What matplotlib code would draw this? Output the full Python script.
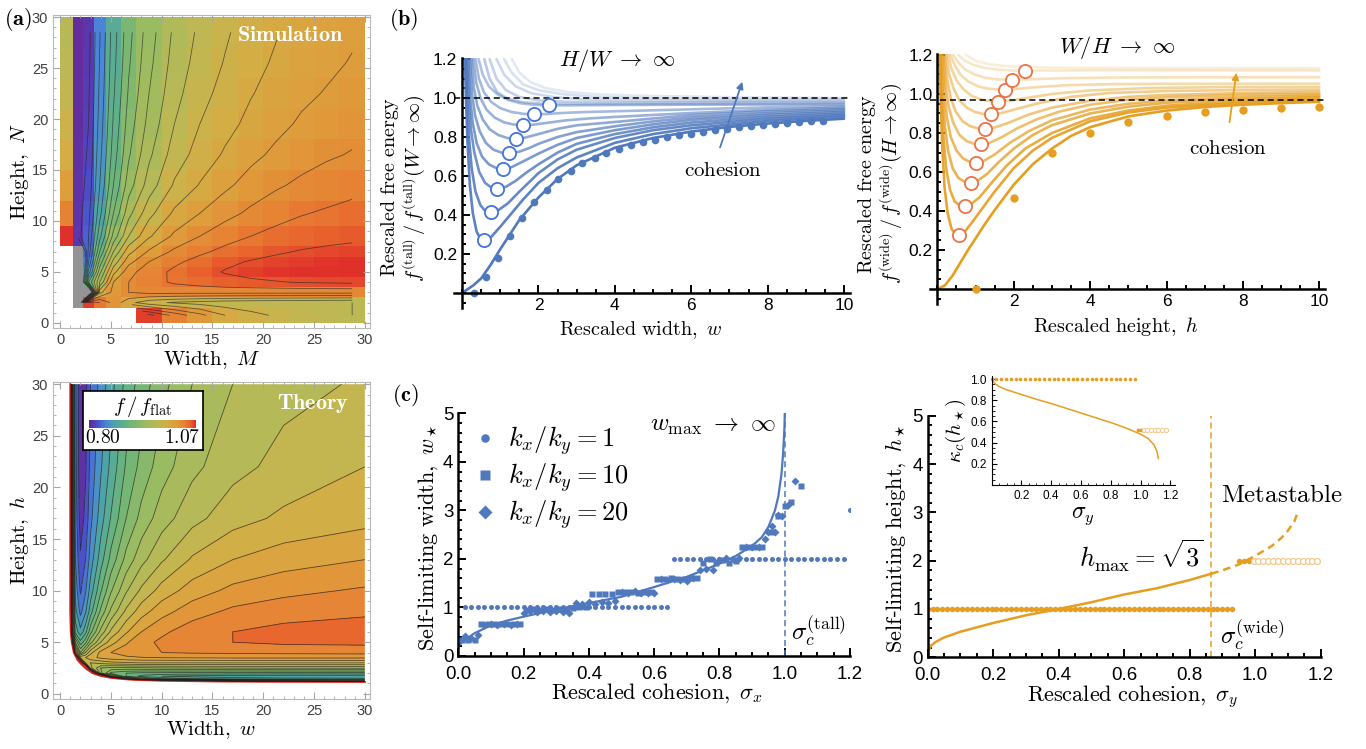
import numpy as np
import matplotlib
matplotlib.use("Agg")
import matplotlib.pyplot as plt
from matplotlib.colors import LinearSegmentedColormap, Normalize
from matplotlib.patches import Polygon
from matplotlib.ticker import MultipleLocator, FixedLocator

plt.rcParams['mathtext.fontset'] = 'cm'
plt.rcParams['font.family'] = ['Liberation Sans', 'DejaVu Sans']

BLUE = (0.31, 0.47, 0.74)
ORANGE = (0.90, 0.62, 0.13)
RING = (0.93, 0.45, 0.27)

# ---------------- colour scale f / f_flat ----------------
VMIN, VMAX = 0.795, 1.075
CMAP_VALS = [0.795, 0.815, 0.84, 0.865, 0.90, 0.94, 0.975, 1.0, 1.025, 1.045, 1.06, 1.075]
CMAP_COLS = ['#6b2390', '#4b4cc7', '#4a86d8', '#4fa6a3', '#6db57a', '#9cbb60',
             '#bcb955', '#d4ad45', '#e09a3a', '#e68334', '#e8642d', '#e0302a']
LEVELS = 0.795 + 0.015 * np.arange(19)

# ---------------- (a) simulation table ----------------
SIM_M_EDGES = [0, 1.3, 2.3, 3.3, 4.5, 6, 7.5, 10, 12.5, 15, 17.5, 20, 22.5, 25, 27.5, 30]
SIM_N_EDGES = [0, 1.5, 2.5, 3.5, 4.5, 5.5, 6.5, 7.5, 9.5, 12, 15, 18, 21, 24, 27, 30]
nan = np.nan
SIM_F = [
    [nan, nan, nan, nan, nan, nan, 1.07, 1.045, 1.025, 1.005, 0.995, 0.988, 0.982, 0.978, 0.975],
    [nan, 0.7, 1.07, 1.05, 1.03, 1.01, 0.995, 0.988, 0.984, 0.981, 0.979, 0.978, 0.977, 0.976, 0.975],
    [nan, 0.7, 0.7, 1.0, 1.025, 1.035, 1.04, 1.04, 1.04, 1.04, 1.04, 1.04, 1.04, 1.04, 1.04],
    [nan, 0.7, 0.9, 0.96, 1.02, 1.035, 1.045, 1.052, 1.056, 1.06, 1.062, 1.064, 1.066, 1.067, 1.068],
    [nan, 0.7, 0.86, 0.94, 1.0, 1.03, 1.043, 1.053, 1.06, 1.066, 1.07, 1.073, 1.075, 1.077, 1.078],
    [nan, 0.7, 0.84, 0.92, 0.98, 1.015, 1.035, 1.047, 1.055, 1.062, 1.066, 1.069, 1.071, 1.073, 1.074],
    [nan, 0.72, 0.83, 0.9, 0.96, 1.0, 1.022, 1.038, 1.047, 1.054, 1.059, 1.063, 1.066, 1.068, 1.069],
    [1.075, 0.805, 0.825, 0.88, 0.935, 0.975, 1.003, 1.023, 1.035, 1.044, 1.05, 1.055, 1.058, 1.06, 1.062],
    [1.045, 0.804, 0.82, 0.865, 0.915, 0.955, 0.985, 1.008, 1.02, 1.03, 1.038, 1.044, 1.049, 1.052, 1.055],
    [1.02, 0.803, 0.815, 0.855, 0.9, 0.938, 0.967, 0.992, 1.006, 1.017, 1.026, 1.033, 1.038, 1.042, 1.045],
    [1.0, 0.802, 0.812, 0.85, 0.892, 0.928, 0.957, 0.982, 0.996, 1.007, 1.016, 1.023, 1.029, 1.033, 1.036],
    [0.99, 0.801, 0.81, 0.846, 0.887, 0.922, 0.95, 0.975, 0.99, 1.0, 1.009, 1.016, 1.022, 1.026, 1.03],
    [0.98, 0.801, 0.808, 0.843, 0.883, 0.917, 0.945, 0.97, 0.985, 0.995, 1.004, 1.011, 1.017, 1.021, 1.025],
    [0.975, 0.80, 0.806, 0.841, 0.88, 0.913, 0.941, 0.966, 0.981, 0.991, 1.0, 1.007, 1.013, 1.017, 1.021],
    [0.97, 0.80, 0.805, 0.839, 0.878, 0.91, 0.938, 0.963, 0.978, 0.988, 0.997, 1.004, 1.01, 1.014, 1.018],
]

# ---------------- (a) theory table ----------------
TH_W = [1.0, 1.2, 1.5, 2, 2.5, 3, 4, 5, 6.5, 8, 10, 13, 17, 22, 30]
TH_H = [1.0, 1.2, 1.45, 1.7, 2.0, 2.5, 3.0, 3.5, 4, 5, 6, 8, 10, 13, 17, 22, 30]
TH_F = [
    [1.15] * 15,
    [1.15] * 12 + [1.03, 0.99, 0.96],
    [1.15] * 8 + [1.0, 0.93, 0.9, 0.885, 0.878, 0.875, 0.873],
    [1.15] * 7 + [0.98, 0.9, 0.88, 0.87, 0.865, 0.862, 0.86, 0.86],
    [1.15] * 6 + [0.95, 0.91, 0.9, 0.896, 0.895, 0.894, 0.893, 0.893, 0.893],
    [1.15] * 5 + [0.98, 0.945, 0.94, 0.94, 0.942, 0.944, 0.945, 0.946, 0.947, 0.948],
    [1.15, 1.15, 1.15, 1.1, 0.99, 0.975, 0.98, 0.985, 0.988, 0.99, 0.99, 0.99, 0.99, 0.99, 0.99],
    [1.15, 1.15, 1.12, 0.99, 0.99, 1.0, 1.008, 1.013, 1.017, 1.019, 1.02, 1.021, 1.022, 1.022, 1.022],
    [1.15, 1.15, 1.0, 0.93, 0.96, 0.985, 1.01, 1.02, 1.027, 1.032, 1.035, 1.037, 1.038, 1.039, 1.04],
    [1.15, 1.05, 0.93, 0.89, 0.91, 0.94, 0.975, 0.998, 1.018, 1.03, 1.038, 1.045, 1.05, 1.053, 1.054],
    [1.15, 0.97, 0.88, 0.86, 0.88, 0.91, 0.95, 0.978, 1.003, 1.02, 1.032, 1.043, 1.05, 1.055, 1.058],
    [1.15, 0.955, 0.86, 0.835, 0.852, 0.878, 0.918, 0.948, 0.978, 0.998, 1.014, 1.028, 1.038, 1.043, 1.047],
    [1.15, 0.95, 0.85, 0.823, 0.838, 0.862, 0.898, 0.928, 0.958, 0.978, 0.996, 1.012, 1.024, 1.031, 1.037],
    [1.15, 0.945, 0.84, 0.812, 0.825, 0.847, 0.878, 0.905, 0.935, 0.955, 0.973, 0.992, 1.005, 1.013, 1.02],
    [1.15, 0.94, 0.835, 0.803, 0.814, 0.836, 0.863, 0.886, 0.915, 0.935, 0.953, 0.97, 0.984, 0.993, 1.0],
    [1.15, 0.935, 0.832, 0.797, 0.808, 0.83, 0.853, 0.874, 0.902, 0.92, 0.938, 0.956, 0.97, 0.98, 0.99],
    [1.15, 0.93, 0.83, 0.796, 0.805, 0.825, 0.846, 0.864, 0.89, 0.907, 0.925, 0.945, 0.96, 0.97, 0.977],
]
TH_EDGE_W = [1.0, 1.0, 1.05, 1.15, 1.35, 1.7, 2.06, 2.6, 3.2, 3.9, 5, 6, 7.3, 10, 15, 20, 30]
TH_EDGE_H = [30, 8, 6, 5, 4, 3.3, 2.9, 2.4, 2.0, 1.76, 1.55, 1.45, 1.35, 1.27, 1.2, 1.17, 1.15]

# ---------------- (b) tall: free energy vs width ----------------
TALL_W = [
    [0.0, 0.3, 0.5, 0.75, 1.0, 1.25, 1.5, 2.0, 2.5, 3.0, 4.0, 5.0, 6.0, 7.0, 8.0, 9.0, 10.0],
    [0.075, 0.1, 0.14, 0.2, 0.28, 0.38, 0.48, 0.585, 0.75, 1.0, 1.3, 1.6, 2.0, 2.5, 3.0, 4.0, 5.0, 6.0, 8.0, 10.0],
    [0.1, 0.13, 0.18, 0.25, 0.35, 0.48, 0.6, 0.76, 0.95, 1.2, 1.5, 2.0, 2.5, 3.0, 4.0, 5.0, 6.0, 8.0, 10.0],
    [0.13, 0.17, 0.23, 0.32, 0.45, 0.6, 0.75, 0.925, 1.15, 1.4, 1.7, 2.0, 2.5, 3.0, 4.0, 5.0, 6.0, 8.0, 10.0],
    [0.16, 0.21, 0.28, 0.38, 0.52, 0.7, 0.88, 1.08, 1.3, 1.6, 2.0, 2.5, 3.0, 4.0, 5.0, 6.0, 8.0, 10.0],
    [0.2, 0.26, 0.34, 0.46, 0.62, 0.82, 1.03, 1.24, 1.5, 1.75, 2.0, 2.5, 3.0, 4.0, 5.0, 6.0, 8.0, 10.0],
    [0.24, 0.31, 0.4, 0.54, 0.72, 0.95, 1.18, 1.4, 1.65, 2.0, 2.5, 3.0, 4.0, 5.0, 6.0, 8.0, 10.0],
    [0.29, 0.37, 0.48, 0.64, 0.85, 1.1, 1.35, 1.59, 1.85, 2.2, 2.7, 3.3, 4.0, 5.0, 6.0, 8.0, 10.0],
    [0.35, 0.44, 0.57, 0.76, 1.0, 1.3, 1.6, 1.87, 2.2, 2.6, 3.2, 4.0, 5.0, 6.0, 8.0, 10.0],
    [0.43, 0.54, 0.7, 0.92, 1.2, 1.55, 1.9, 2.28, 2.7, 3.3, 4.0, 5.0, 6.0, 8.0, 10.0],
    [0.58, 0.72, 0.92, 1.2, 1.6, 2.1, 2.8, 4.0, 6.0, 10.0],
    [0.72, 0.9, 1.15, 1.5, 2.0, 2.7, 3.6, 5.0, 7.0, 10.0],
    [0.9, 1.1, 1.4, 1.8, 2.4, 3.2, 4.5, 7.0, 10.0],
    [1.1, 1.3, 1.6, 2.0, 2.6, 3.5, 5.0, 7.0, 10.0],
    [1.3, 1.5, 1.8, 2.2, 2.8, 3.6, 5.0, 7.0, 10.0],
]
TALL_F = [
    [0.0, 0.04, 0.075, 0.145, 0.225, 0.30, 0.375, 0.49, 0.585, 0.655, 0.745, 0.795, 0.828, 0.852, 0.869, 0.883, 0.894],
    [1.2, 1.0, 0.78, 0.56, 0.41, 0.315, 0.278, 0.27, 0.285, 0.34, 0.41, 0.48, 0.565, 0.64, 0.695, 0.77, 0.815, 0.845, 0.882, 0.905],
    [1.2, 1.0, 0.8, 0.64, 0.52, 0.45, 0.422, 0.414, 0.425, 0.46, 0.52, 0.615, 0.685, 0.735, 0.795, 0.835, 0.86, 0.893, 0.913],
    [1.2, 1.0, 0.84, 0.72, 0.62, 0.565, 0.543, 0.535, 0.545, 0.575, 0.62, 0.66, 0.72, 0.765, 0.815, 0.85, 0.874, 0.903, 0.921],
    [1.2, 1.0, 0.87, 0.77, 0.7, 0.66, 0.642, 0.636, 0.646, 0.675, 0.715, 0.76, 0.795, 0.835, 0.865, 0.888, 0.913, 0.929],
    [1.2, 1.02, 0.91, 0.83, 0.77, 0.735, 0.72, 0.716, 0.725, 0.743, 0.765, 0.8, 0.825, 0.855, 0.88, 0.9, 0.922, 0.937],
    [1.2, 1.05, 0.96, 0.89, 0.84, 0.81, 0.795, 0.79, 0.797, 0.815, 0.842, 0.86, 0.877, 0.895, 0.912, 0.932, 0.944],
    [1.2, 1.08, 1.0, 0.94, 0.9, 0.875, 0.864, 0.86, 0.863, 0.872, 0.885, 0.895, 0.903, 0.913, 0.923, 0.94, 0.951],
    [1.2, 1.1, 1.03, 0.98, 0.948, 0.928, 0.919, 0.916, 0.918, 0.923, 0.928, 0.932, 0.937, 0.942, 0.952, 0.958],
    [1.2, 1.12, 1.06, 1.02, 0.99, 0.972, 0.965, 0.962, 0.962, 0.963, 0.964, 0.965, 0.966, 0.966, 0.967],
    [1.2, 1.1, 1.03, 0.995, 0.978, 0.971, 0.969, 0.969, 0.97, 0.972],
    [1.2, 1.1, 1.04, 1.005, 0.988, 0.981, 0.979, 0.978, 0.979, 0.979],
    [1.2, 1.12, 1.06, 1.025, 1.005, 0.993, 0.988, 0.986, 0.986],
    [1.2, 1.13, 1.07, 1.04, 1.02, 1.005, 0.998, 0.994, 0.993],
    [1.2, 1.13, 1.08, 1.05, 1.03, 1.018, 1.01, 1.004, 1.0],
]
TALL_MIN_W = [0.585, 0.76, 0.925, 1.08, 1.24, 1.40, 1.59, 1.87, 2.28]
TALL_MIN_F = [0.27, 0.414, 0.535, 0.636, 0.716, 0.79, 0.86, 0.916, 0.962]
TALL_SIM_W = [0.32, 0.63, 0.95, 1.26, 1.58, 1.89, 2.21, 2.52, 2.84, 3.15, 3.47, 3.78, 4.10, 4.41, 4.73,
              5.04, 5.36, 5.67, 5.99, 6.30, 6.62, 6.93, 7.25, 7.56, 7.88, 8.19, 8.51, 8.82, 9.14, 9.45]
TALL_SIM_F = [0.0, 0.08, 0.18, 0.29, 0.385, 0.465, 0.53, 0.585, 0.627, 0.665, 0.694, 0.72, 0.74, 0.759, 0.773,
              0.787, 0.798, 0.808, 0.818, 0.827, 0.835, 0.842, 0.849, 0.855, 0.861, 0.866, 0.871, 0.876, 0.880, 0.884]

# ---------------- (b) wide: free energy vs height ----------------
WIDE_H = [
    [0.0, 0.2, 0.4, 0.6, 0.8, 1.0, 1.25, 1.5, 2.0, 2.5, 3.0, 3.5, 4.0, 5.0, 6.0, 7.0, 8.0, 9.0, 10.0],
    [0.06, 0.09, 0.13, 0.19, 0.27, 0.37, 0.47, 0.568, 0.7, 0.9, 1.2, 1.5, 2.0, 2.5, 3.0, 4.0, 5.0, 6.0, 8.0, 10.0],
    [0.08, 0.11, 0.16, 0.23, 0.33, 0.45, 0.58, 0.717, 0.88, 1.1, 1.4, 1.8, 2.3, 3.0, 4.0, 5.0, 6.0, 8.0, 10.0],
    [0.1, 0.14, 0.2, 0.28, 0.4, 0.55, 0.7, 0.874, 1.05, 1.3, 1.6, 2.0, 2.5, 3.0, 4.0, 5.0, 6.0, 8.0, 10.0],
    [0.13, 0.18, 0.25, 0.35, 0.5, 0.67, 0.84, 1.013, 1.2, 1.5, 1.9, 2.4, 3.0, 4.0, 5.0, 6.0, 8.0, 10.0],
    [0.16, 0.22, 0.3, 0.42, 0.58, 0.77, 0.96, 1.144, 1.35, 1.7, 2.1, 2.6, 3.2, 4.0, 5.0, 6.0, 8.0, 10.0],
    [0.19, 0.26, 0.35, 0.48, 0.66, 0.86, 1.06, 1.257, 1.5, 1.9, 2.4, 3.0, 4.0, 5.0, 6.0, 8.0, 10.0],
    [0.23, 0.31, 0.42, 0.57, 0.77, 0.98, 1.2, 1.406, 1.7, 2.1, 2.7, 3.5, 4.5, 6.0, 8.0, 10.0],
    [0.28, 0.37, 0.5, 0.68, 0.9, 1.14, 1.38, 1.6, 1.9, 2.3, 3.0, 4.0, 5.5, 7.5, 10.0],
    [0.34, 0.45, 0.6, 0.8, 1.05, 1.3, 1.55, 1.772, 2.1, 2.6, 3.4, 4.5, 6.0, 10.0],
    [0.42, 0.55, 0.73, 0.97, 1.25, 1.55, 1.955, 2.4, 3.2, 4.5, 6.0, 10.0],
    [0.55, 0.72, 0.95, 1.25, 1.6, 1.95, 2.29, 2.8, 4.0, 6.0, 10.0],
    [0.75, 1.0, 1.4, 2.0, 3.0, 5.0, 10.0],
]
WIDE_F = [
    [0.0, 0.02, 0.07, 0.135, 0.2, 0.26, 0.335, 0.405, 0.535, 0.64, 0.72, 0.785, 0.83, 0.885, 0.915, 0.933, 0.945, 0.953, 0.96],
    [1.2, 0.95, 0.72, 0.52, 0.39, 0.31, 0.282, 0.278, 0.29, 0.34, 0.42, 0.5, 0.62, 0.71, 0.775, 0.86, 0.905, 0.93, 0.955, 0.968],
    [1.2, 1.0, 0.78, 0.62, 0.51, 0.45, 0.43, 0.425, 0.435, 0.47, 0.54, 0.63, 0.72, 0.8, 0.875, 0.915, 0.94, 0.963, 0.976],
    [1.2, 1.0, 0.83, 0.71, 0.62, 0.57, 0.552, 0.546, 0.555, 0.59, 0.65, 0.72, 0.79, 0.84, 0.9, 0.935, 0.955, 0.973, 0.984],
    [1.2, 1.02, 0.88, 0.78, 0.71, 0.67, 0.653, 0.648, 0.655, 0.69, 0.75, 0.81, 0.865, 0.92, 0.95, 0.967, 0.983, 0.992],
    [1.2, 1.04, 0.93, 0.85, 0.79, 0.758, 0.745, 0.742, 0.748, 0.78, 0.825, 0.87, 0.91, 0.945, 0.97, 0.983, 0.995, 1.0],
    [1.2, 1.07, 0.98, 0.91, 0.86, 0.835, 0.824, 0.821, 0.828, 0.855, 0.895, 0.93, 0.965, 0.985, 0.995, 1.005, 1.01],
    [1.2, 1.1, 1.03, 0.97, 0.93, 0.908, 0.898, 0.896, 0.903, 0.925, 0.955, 0.985, 1.005, 1.015, 1.02, 1.022],
    [1.2, 1.13, 1.07, 1.025, 0.99, 0.972, 0.963, 0.961, 0.965, 0.978, 1.0, 1.018, 1.03, 1.035, 1.036],
    [1.2, 1.15, 1.1, 1.065, 1.04, 1.028, 1.023, 1.022, 1.026, 1.035, 1.045, 1.05, 1.052, 1.053],
    [1.2, 1.16, 1.125, 1.1, 1.083, 1.075, 1.072, 1.075, 1.08, 1.084, 1.085, 1.086],
    [1.2, 1.17, 1.148, 1.133, 1.124, 1.12, 1.119, 1.12, 1.121, 1.121, 1.12],
    [1.2, 1.17, 1.15, 1.14, 1.135, 1.133, 1.132],
]
WIDE_MIN_H = [0.568, 0.717, 0.874, 1.013, 1.144, 1.257, 1.406, 1.60, 1.772, 1.955, 2.29]
WIDE_MIN_F = [0.278, 0.425, 0.546, 0.648, 0.742, 0.821, 0.896, 0.961, 1.022, 1.072, 1.119]
WIDE_SIM_H = [1, 2, 3, 4, 5, 6, 7, 8, 9, 10]
WIDE_SIM_F = [0.0, 0.469, 0.696, 0.80, 0.857, 0.886, 0.908, 0.92, 0.928, 0.933]

# ---------------- (c) self-limiting width ----------------
# k=1 runs: (first sigma, last sigma, w), sampled every 0.02
K1_START = [0.02, 0.66, 1.20]
K1_END = [0.64, 1.18, 1.20]
K1_W = [1, 2, 3]
K10_S = [0.01, 0.03, 0.05, 0.07, 0.09, 0.11, 0.13, 0.15, 0.17, 0.19, 0.21, 0.23, 0.25, 0.27, 0.29, 0.31,
         0.33, 0.35, 0.37, 0.39, 0.41, 0.43, 0.45, 0.47, 0.49, 0.51, 0.53, 0.55, 0.57, 0.59, 0.61, 0.63,
         0.65, 0.67, 0.69, 0.71, 0.73, 0.75, 0.77, 0.79, 0.81, 0.83, 0.85, 0.87, 0.89, 0.91, 0.93, 0.96,
         0.98, 1.0, 1.02, 1.05]
K10_W = [0.33, 0.33, 0.33, 0.65, 0.65, 0.65, 0.65, 0.65, 0.65, 0.65, 0.95, 0.97, 0.95, 0.97, 0.95, 0.97,
         0.95, 0.98, 1.0, 1.0, 1.27, 1.27, 1.27, 1.27, 1.32, 1.32, 1.32, 1.3, 1.32, 1.32, 1.58, 1.58,
         1.6, 1.58, 1.58, 1.6, 1.6, 1.92, 2.0, 1.92, 1.98, 1.92, 1.95, 2.25, 2.25, 2.25, 2.25, 2.55,
         2.88, 3.1, 3.18, 3.5]
K20_S = [0.02, 0.04, 0.06, 0.08, 0.10, 0.12, 0.14, 0.16, 0.18, 0.20, 0.22, 0.24, 0.26, 0.28, 0.30, 0.32,
         0.34, 0.36, 0.38, 0.40, 0.42, 0.44, 0.46, 0.48, 0.50, 0.52, 0.54, 0.56, 0.58, 0.60, 0.62, 0.64,
         0.66, 0.68, 0.70, 0.72, 0.74, 0.76, 0.78, 0.80, 0.82, 0.84, 0.86, 0.88, 0.90, 0.92, 0.94, 0.95,
         0.96, 0.97, 0.98, 0.99, 1.01, 1.03]
K20_W = [0.42, 0.38, 0.44, 0.64, 0.66, 0.64, 0.65, 0.64, 0.66, 0.88, 0.92, 0.9, 0.93, 0.9, 0.92, 0.9,
         0.88, 1.1, 1.08, 1.12, 1.08, 1.12, 1.1, 1.14, 1.32, 1.3, 1.33, 1.3, 1.3, 1.3, 1.58, 1.56,
         1.58, 1.56, 1.55, 1.6, 1.78, 1.8, 1.78, 1.98, 2.02, 2.0, 2.02, 2.25, 2.25, 2.24, 2.42, 2.55,
         2.68, 2.55, 2.9, 2.88, 3.12, 3.6]
TALL_TH_S = [0.0, 0.005, 0.02, 0.05, 0.1, 0.15, 0.2, 0.3, 0.4, 0.5, 0.6, 0.7, 0.8, 0.85, 0.9, 0.93,
             0.95, 0.97, 0.98, 0.99, 0.995, 0.999, 1.0]
TALL_TH_W = [0.19, 0.24, 0.33, 0.47, 0.63, 0.73, 0.81, 0.96, 1.09, 1.22, 1.42, 1.63, 1.9, 2.06, 2.27, 2.45,
             2.66, 3.0, 3.28, 3.75, 4.18, 4.7, 5.0]

# ---------------- (c) self-limiting height ----------------
H1_START = [0.0, 0.95]
H1_END = [0.935, 0.98]
H1_H = [1, 2]
H_OPEN_START, H_OPEN_END, H_OPEN_H = 0.995, 1.2, 2
WIDE_TH_S = [0.0, 0.003, 0.01, 0.025, 0.05, 0.1, 0.2, 0.3, 0.4, 0.5, 0.6, 0.7, 0.8, 0.866]
WIDE_TH_H = [0.0, 0.15, 0.24, 0.32, 0.41, 0.53, 0.71, 0.87, 1.0, 1.14, 1.3, 1.43, 1.6, 1.73]
META_S = [0.866, 0.9, 0.95, 1.0, 1.05, 1.08, 1.1, 1.12, 1.13]
META_H = [1.73, 1.8, 1.92, 2.1, 2.3, 2.47, 2.62, 2.82, 3.0]
SIGMA_C_WIDE = 0.866
SIGMA_C_TALL = 1.0

# inset: kappa_c(h*)
KAP_TH_S = [0.0, 0.02, 0.05, 0.1, 0.2, 0.3, 0.4, 0.5, 0.6, 0.7, 0.8, 0.9, 1.0, 1.05, 1.09, 1.11, 1.12]
KAP_TH_K = [1.0, 0.96, 0.93, 0.9, 0.855, 0.81, 0.77, 0.725, 0.68, 0.635, 0.59, 0.54, 0.48, 0.44, 0.38, 0.32, 0.25]
KAP_DOTS_START, KAP_DOTS_END, KAP_DOTS_K = 0.0, 0.97, 1.0
KAP_FILL_S = [0.98, 1.0]
KAP_FILL_K = [0.52, 0.52]
KAP_OPEN_START, KAP_OPEN_END, KAP_OPEN_K = 1.02, 1.17, 0.52


def runs(starts, ends, vals, step):
    xs, ys = [], []
    for a, b, v in zip(starts, ends, vals):
        s = np.arange(a, b + 1e-9, step)
        xs.extend(s)
        ys.extend([v] * len(s))
    return np.array(xs), np.array(ys)


def make_cmap(under):
    pos = [(v - VMIN) / (VMAX - VMIN) for v in CMAP_VALS]
    cm = LinearSegmentedColormap.from_list('rb', list(zip(pos, CMAP_COLS)))
    cm.set_under(under)
    cm.set_over(CMAP_COLS[-1])
    cm.set_bad('white')
    return cm


def frame_a(ax):
    ax.set_xlim(-0.7, 30.5)
    ax.set_ylim(-0.5, 30.2)
    for s in ax.spines.values():
        s.set_color('0.72')
    ax.xaxis.set_major_locator(MultipleLocator(5))
    ax.xaxis.set_minor_locator(MultipleLocator(1))
    ax.yaxis.set_major_locator(MultipleLocator(5))
    ax.yaxis.set_minor_locator(MultipleLocator(1))
    ax.tick_params(which='both', direction='in', top=True, right=True, colors='0.65',
                   labelcolor='0.25', labelsize=10.5)
    ax.tick_params(which='major', length=5)
    ax.tick_params(which='minor', length=2.5)


def axes_b(ax, xlim, ylim, xt, yt, xminor, yminor):
    ax.set_xlim(*xlim)
    ax.set_ylim(*ylim)
    for k in ['top', 'right']:
        ax.spines[k].set_visible(False)
    for k in ['left', 'bottom']:
        ax.spines[k].set_linewidth(1.8)
        ax.spines[k].set_position(('data', 0))
    ax.xaxis.set_major_locator(FixedLocator(xt))
    ax.yaxis.set_major_locator(FixedLocator(yt))
    ax.xaxis.set_minor_locator(MultipleLocator(xminor))
    ax.yaxis.set_minor_locator(MultipleLocator(yminor))
    ax.tick_params(which='both', direction='in', labelsize=12.5, width=1.4)
    ax.tick_params(which='major', length=6)
    ax.tick_params(which='minor', length=3)


def axes_c(ax):
    ax.set_xlim(0, 1.2)
    ax.set_ylim(0, 5)
    for k in ['top', 'right']:
        ax.spines[k].set_visible(False)
    for k in ['left', 'bottom']:
        ax.spines[k].set_linewidth(1.8)
    ax.xaxis.set_major_locator(MultipleLocator(0.2))
    ax.xaxis.set_minor_locator(MultipleLocator(0.05))
    ax.yaxis.set_major_locator(MultipleLocator(1))
    ax.yaxis.set_minor_locator(MultipleLocator(0.2))
    ax.tick_params(which='both', direction='in', labelsize=13.5, width=1.4)
    ax.tick_params(axis='x', pad=7)
    ax.tick_params(which='major', length=6)
    ax.tick_params(which='minor', length=3)


fig = plt.figure(figsize=(13.66, 7.49), dpi=100)

# ================= (a) simulation =================
cmap_sim = make_cmap((0.58, 0.58, 0.59))
cmap_th = make_cmap(CMAP_COLS[0])
norm = Normalize(VMIN, VMAX)

ax = fig.add_axes([0.0388, 0.562, 0.232, 0.418])
zs = np.ma.masked_invalid(np.array(SIM_F))
ax.pcolormesh(SIM_M_EDGES, SIM_N_EDGES, zs, cmap=cmap_sim, norm=norm)
mc = 0.5 * (np.array(SIM_M_EDGES[1:]) + np.array(SIM_M_EDGES[:-1]))
nc = 0.5 * (np.array(SIM_N_EDGES[1:]) + np.array(SIM_N_EDGES[:-1]))
# contour lines from the wall column onwards (the thin left strip is drawn plain)
ax.contour(mc[1:], nc, zs[:, 1:], levels=LEVELS, colors='0.15', linewidths=0.6, alpha=0.65)
frame_a(ax)
ax.text(22.7, 28.2, r'$\mathbf{Simulation}$', color='white', fontsize=16, ha='center', va='center')
ax.set_xlabel(r'$\mathrm{Width,}\ M$', fontsize=15)
ax.set_ylabel(r'$\mathrm{Height,}\ N$', fontsize=15)
ax.xaxis.set_label_coords(0.5, -0.068)
ax.yaxis.set_label_coords(-0.07, 0.5)
fig.text(0.003, 0.992, r'$\mathbf{(a)}$', fontsize=16, ha='left', va='top')

# ================= (a) theory =================
ax = fig.add_axes([0.0388, 0.0668, 0.232, 0.423])
zt = np.array(TH_F)
clip = Polygon(np.column_stack([TH_EDGE_W + [30], TH_EDGE_H + [30]]), closed=True,
               transform=ax.transData, facecolor='none', edgecolor='none')
cf = ax.contourf(TH_W, TH_H, zt, levels=LEVELS, cmap=cmap_th, norm=norm, extend='both')
cf.set_clip_path(clip)
ax.plot(TH_EDGE_W, TH_EDGE_H, color='#d8231c', lw=1.4, zorder=2)
cl = ax.contour(TH_W, TH_H, zt, levels=LEVELS, colors='0.12', linewidths=0.6, alpha=0.7, zorder=3)
cl.set_clip_path(clip)
frame_a(ax)
ax.text(24.9, 28.1, r'$\mathbf{Theory}$', color='white', fontsize=16, ha='center', va='center')
ax.set_xlabel(r'$\mathrm{Width,}\ w$', fontsize=15)
ax.set_ylabel(r'$\mathrm{Height,}\ h$', fontsize=15)
ax.xaxis.set_label_coords(0.5, -0.063)
ax.yaxis.set_label_coords(-0.07, 0.5)

# colour key box
key = ax.inset_axes([2.26, 23.6, 11.8, 5.7], transform=ax.transData)
key.set_xticks([])
key.set_yticks([])
for s in key.spines.values():
    s.set_linewidth(1.2)
key.set_xlim(0, 1)
key.set_ylim(0, 1)
key.text(0.5, 0.74, r'$f\,/\,f_{\mathrm{flat}}$', fontsize=15, ha='center', va='center')
key.text(0.02, 0.2, r'$0.80$', fontsize=14, ha='left', va='center')
key.text(0.98, 0.2, r'$1.07$', fontsize=14, ha='right', va='center')
bar = ax.inset_axes([2.85, 25.8, 10.5, 0.75], transform=ax.transData)
bar.imshow(np.linspace(0, 1, 256)[None, :], aspect='auto',
           cmap=LinearSegmentedColormap.from_list('k', list(zip(
               [(v - VMIN) / (VMAX - VMIN) for v in CMAP_VALS], CMAP_COLS))))
bar.set_axis_off()

# ================= (b) tall =================
ax = fig.add_axes([0.3327, 0.5893, 0.2894, 0.3332])
n = len(TALL_W)
for i in range(n):
    a = 1.0 if i == 0 else max(0.1, 0.92 - 0.058 * (i - 1))
    ax.plot(TALL_W[i], TALL_F[i], color=BLUE, alpha=a, lw=1.9, solid_capstyle='round')
ax.axhline(1.0, color='black', lw=1.1, ls=(0, (4, 2.5)))
ax.plot(TALL_SIM_W, TALL_SIM_F, 'o', color=BLUE, ms=5.5, mec='none', clip_on=False)
ax.plot(TALL_MIN_W, TALL_MIN_F, 'o', mfc='white', mec=(0.27, 0.45, 0.85), mew=1.3, ms=9.5, zorder=5)
axes_b(ax, (-0.2, 10.15), (-0.075, 1.205), [2, 4, 6, 8, 10], [0.2, 0.4, 0.6, 0.8, 1.0, 1.2], 0.5, 0.05)
ax.text(4.06, 1.19, r'$H/W\ \to\ \infty$', fontsize=16, ha='center', va='center')
ax.annotate('', xy=(7.36, 1.097), xytext=(6.73, 0.733),
            arrowprops=dict(arrowstyle='-|>', color=BLUE, lw=1.3, mutation_scale=10))
ax.text(6.83, 0.63, r'$\mathrm{cohesion}$', fontsize=15, ha='center', va='center')
ax.set_xlabel(r'$\mathrm{Rescaled\ width,}\ w$', fontsize=14.5)
ax.set_ylabel(r'$\mathrm{Rescaled\ free\ energy}$' + '\n' +
              r'$f^{(\mathrm{tall})}\,/\,f^{(\mathrm{tall})}(W\to\infty)$', fontsize=14.5, linespacing=1.0)
ax.xaxis.set_label_coords(0.47, -0.045)
ax.yaxis.set_label_coords(-0.067, 0.48)
fig.text(0.285, 0.992, r'$\mathbf{(b)}$', fontsize=16, ha='left', va='top')

# ================= (b) wide =================
ax = fig.add_axes([0.6806, 0.5943, 0.2894, 0.3337])
n = len(WIDE_H)
for i in range(n):
    a = 1.0 if i == 0 else max(0.1, 0.92 - 0.068 * (i - 1))
    ax.plot(WIDE_H[i], WIDE_F[i], color=ORANGE, alpha=a, lw=1.9, solid_capstyle='round')
ax.axhline(0.971, color='black', lw=1.1, ls=(0, (4, 2.5)))
ax.plot(WIDE_SIM_H, WIDE_SIM_F, 'o', color=ORANGE, ms=6, mec='none', clip_on=False, zorder=6)
ax.plot(WIDE_MIN_H, WIDE_MIN_F, 'o', mfc='white', mec=RING, mew=1.3, ms=9.5, zorder=5)
axes_b(ax, (-0.2, 10.15), (-0.075, 1.205), [2, 4, 6, 8, 10], [0.2, 0.4, 0.6, 0.8, 1.0, 1.2], 0.5, 0.05)
ax.text(4.7, 1.24, r'$W/H\ \to\ \infty$', fontsize=16, ha='center', va='center', clip_on=False)
ax.annotate('', xy=(7.84, 1.123), xytext=(7.64, 0.841),
            arrowprops=dict(arrowstyle='-|>', color=ORANGE, lw=1.3, mutation_scale=10))
ax.text(7.62, 0.72, r'$\mathrm{cohesion}$', fontsize=15, ha='center', va='center')
ax.set_xlabel(r'$\mathrm{Rescaled\ height,}\ h$', fontsize=14.5)
ax.set_ylabel(r'$\mathrm{Rescaled\ free\ energy}$' + '\n' +
              r'$f^{(\mathrm{wide})}\,/\,f^{(\mathrm{wide})}(H\to\infty)$', fontsize=14.5, linespacing=1.0)
ax.xaxis.set_label_coords(0.47, -0.045)
ax.yaxis.set_label_coords(-0.062, 0.48)

# ================= (c) width =================
ax = fig.add_axes([0.3355, 0.1242, 0.2868, 0.324])
ax.plot(TALL_TH_S, TALL_TH_W, color=BLUE, lw=1.6)
ax.plot([SIGMA_C_TALL, SIGMA_C_TALL], [0, 5], color=BLUE, lw=1.1, ls=(0, (4, 2.5)))
s1, w1 = runs(K1_START, K1_END, K1_W, 0.02)
ax.plot(s1, w1, 'o', color=BLUE, ms=3.6, mec='none', label=r'$k_x/k_y = 1$')
ax.plot(K10_S, K10_W, 's', color=BLUE, ms=4.6, mec='none', label=r'$k_x/k_y = 10$')
ax.plot(K20_S, K20_W, 'D', color=BLUE, ms=4.4, mec='none', label=r'$k_x/k_y = 20$')
axes_c(ax)
ax.legend(loc='upper left', bbox_to_anchor=(0.0, 1.03), frameon=False, fontsize=19, handlelength=0.6,
          handletextpad=0.6, labelspacing=0.15, markerscale=1.7, borderaxespad=0.3)
ax.text(0.78, 4.76, r'$w_{\mathrm{max}}\ \to\ \infty$', fontsize=18, ha='center', va='center')
ax.text(1.02, 0.5, r'$\sigma_c^{(\mathrm{tall})}$', fontsize=18, ha='left', va='center')
ax.set_xlabel(r'$\mathrm{Rescaled\ cohesion,}\ \sigma_x$', fontsize=16)
ax.set_ylabel(r'$\mathrm{Self}$-$\mathrm{limiting\ width,}\ w_\star$', fontsize=16)
ax.xaxis.set_label_coords(0.506, -0.103)
ax.yaxis.set_label_coords(-0.047, 0.49)
fig.text(0.287, 0.49, r'$\mathbf{(c)}$', fontsize=16, ha='left', va='top')

# ================= (c) height =================
ax = fig.add_axes([0.6791, 0.1224, 0.2877, 0.3226])
ax.plot(WIDE_TH_S, WIDE_TH_H, color=ORANGE, lw=1.8)
ax.plot(META_S, META_H, color=ORANGE, lw=1.8, ls=(0, (3, 2)))
ax.plot([SIGMA_C_WIDE, SIGMA_C_WIDE], [0, 5], color=ORANGE, lw=1.1, ls=(0, (4, 2.5)))
sh, hh = runs(H1_START, H1_END, H1_H, 0.015)
ax.plot(sh, hh, 'o', color=ORANGE, ms=4, mec='none')
so, ho = runs([H_OPEN_START], [H_OPEN_END], [H_OPEN_H], 0.015)
ax.plot(so, ho, 'o', mfc='white', mec=(0.96, 0.78, 0.55), mew=0.9, ms=4.2)
axes_c(ax)
ax.text(0.895, 3.36, r'$\mathrm{Metastable}$', fontsize=18, ha='left', va='center')
ax.text(0.842, 2.1, r'$h_{\mathrm{max}} = \sqrt{3}$', fontsize=19, ha='right', va='center')
ax.text(0.893, 0.45, r'$\sigma_c^{(\mathrm{wide})}$', fontsize=18, ha='left', va='center')
ax.set_xlabel(r'$\mathrm{Rescaled\ cohesion,}\ \sigma_y$', fontsize=16)
ax.set_ylabel(r'$\mathrm{Self}$-$\mathrm{limiting\ height,}\ h_\star$', fontsize=16)
ax.xaxis.set_label_coords(0.522, -0.106)
ax.yaxis.set_label_coords(-0.05, 0.49)

# inset
ins = fig.add_axes([0.726, 0.3525, 0.134, 0.1455])
ins.plot(KAP_TH_S, KAP_TH_K, color=ORANGE, lw=1.1)
sk, kk = runs([KAP_DOTS_START], [KAP_DOTS_END], [KAP_DOTS_K], 0.032)
ins.plot(sk, kk, 'o', color=ORANGE, ms=2.6, mec='none', clip_on=False)
ins.plot(KAP_FILL_S, KAP_FILL_K, 'o', color=ORANGE, ms=2.8, mec='none')
so, ko = runs([KAP_OPEN_START], [KAP_OPEN_END], [KAP_OPEN_K], 0.025)
ins.plot(so, ko, 'o', mfc='white', mec=(0.96, 0.78, 0.55), mew=0.7, ms=3)
ins.set_xlim(0, 1.23)
ins.set_ylim(0, 1.03)
for k in ['top', 'right']:
    ins.spines[k].set_visible(False)
ins.set_xticks([0.2, 0.4, 0.6, 0.8, 1.0, 1.2])
ins.set_yticks([0.2, 0.4, 0.6, 0.8, 1.0])
ins.xaxis.set_minor_locator(MultipleLocator(0.05))
ins.yaxis.set_minor_locator(MultipleLocator(0.05))
ins.tick_params(which='both', direction='in', labelsize=8.5)
ins.tick_params(which='major', length=3.5)
ins.tick_params(which='minor', length=1.8)
ins.set_xlabel(r'$\sigma_y$', fontsize=17, labelpad=2)
ins.set_ylabel(r'$\kappa_c(h_\star)$', fontsize=15, labelpad=2)

fig.savefig('out.png', dpi=100)
